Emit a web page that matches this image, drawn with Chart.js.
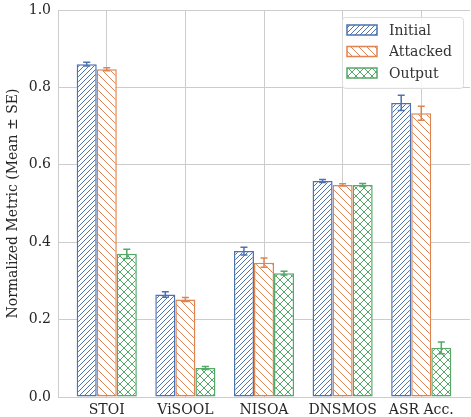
<!DOCTYPE html>
<html>
<head>
<meta charset="utf-8">
<script src="https://cdn.jsdelivr.net/npm/chart.js@4.4.1/dist/chart.umd.min.js"></script>
<style>
  html, body { margin: 0; padding: 0; background: #fff; }
  #wrap { width: 471px; height: 417px; }
</style>
</head>
<body>
<div id="wrap"><canvas id="chart"></canvas></div>
<script>
// data
var metrics = ["STOI", "ViSOOL", "NISOA", "DNSMOS", "ASR Acc."]
var initialMean = [0.860, 0.265, 0.377, 0.558, 0.760]
var initialSE = [0.005, 0.007, 0.010, 0.004, 0.020]
var attackedMean = [0.847, 0.252, 0.347, 0.548, 0.733]
var attackedSE = [0.004, 0.005, 0.012, 0.003, 0.018]
var outputMean = [0.370, 0.075, 0.320, 0.548, 0.127]
var outputSE = [0.012, 0.004, 0.005, 0.004, 0.015]
var yTicks = [0.0, 0.2, 0.4, 0.6, 0.8, 1.0]

var BLUE = "#4c72b0", ORANGE = "#dd8452", GREEN = "#55a868"
var FONT = "'DejaVu Serif', serif"

function hatch(color, kind, s) {
    var c = document.createElement("canvas")
    c.width = s; c.height = s
    var g = c.getContext("2d")
    g.fillStyle = "#fff"
    g.fillRect(0, 0, s, s)
    g.strokeStyle = color
    g.lineWidth = 1
    g.beginPath()
    if (kind == "/" || kind == "x") {
        g.moveTo(-1, s + 1); g.lineTo(s + 1, -1)
        g.moveTo(-1, 1); g.lineTo(1, -1)
        g.moveTo(s - 1, s + 1); g.lineTo(s + 1, s - 1)
    }
    if (kind == "\\" || kind == "x") {
        g.moveTo(-1, -1); g.lineTo(s + 1, s + 1)
        g.moveTo(s - 1, -1); g.lineTo(s + 1, 1)
        g.moveTo(-1, s - 1); g.lineTo(1, s + 1)
    }
    g.stroke()
    return g.createPattern(c, "repeat")
}

function pts(arr) {
    return arr.map(function (v, i) { return { x: i, y: v } })
}

var seList = [initialSE, attackedSE, outputSE]

var errorBars = {
    id: "errorBars",
    afterDatasetsDraw: function (chart) {
        var ctx = chart.ctx
        var ys = chart.scales.y
        chart.data.datasets.forEach(function (ds, di) {
            var meta = chart.getDatasetMeta(di)
            ctx.save()
            ctx.strokeStyle = ds.borderColor
            ctx.lineWidth = 1.5
            meta.data.forEach(function (bar, i) {
                var v = ds.data[i].y, e = seList[di][i]
                var top = ys.getPixelForValue(v + e), bot = ys.getPixelForValue(v - e)
                ctx.beginPath()
                ctx.moveTo(bar.x, top); ctx.lineTo(bar.x, bot)
                ctx.moveTo(bar.x - 3.5, top); ctx.lineTo(bar.x + 3.5, top)
                ctx.moveTo(bar.x - 3.5, bot); ctx.lineTo(bar.x + 3.5, bot)
                ctx.stroke()
            })
            ctx.restore()
        })
    }
}

var insideLegend = {
    id: "insideLegend",
    afterDraw: function (chart) {
        var ctx = chart.ctx
        var area = chart.chartArea
        var w = 121, h = 71
        var x0 = area.right - w - 7, y0 = area.top + 7
        ctx.save()
        ctx.fillStyle = "rgba(255,255,255,0.85)"
        ctx.strokeStyle = "#dddddd"
        ctx.lineWidth = 1
        ctx.beginPath()
        ctx.roundRect(x0 + 0.5, y0 + 0.5, w, h, 3)
        ctx.fill(); ctx.stroke()
        ctx.font = "14px " + FONT
        ctx.textBaseline = "middle"
        chart.data.datasets.forEach(function (ds, i) {
            var cy = y0 + 13 + i * 21.5
            ctx.fillStyle = ds.backgroundColor
            ctx.fillRect(x0 + 5, cy - 5, 30, 10)
            ctx.strokeStyle = ds.borderColor
            ctx.lineWidth = 1.5
            ctx.strokeRect(x0 + 5, cy - 5, 30, 10)
            ctx.fillStyle = "#333333"
            ctx.fillText(ds.label, x0 + 47, cy + 1)
        })
        ctx.restore()
    }
}

var datasets = [
    { label: "Initial", data: pts(initialMean), borderColor: BLUE, backgroundColor: hatch(BLUE, "/", 5) },
    { label: "Attacked", data: pts(attackedMean), borderColor: ORANGE, backgroundColor: hatch(ORANGE, "\\", 8) },
    { label: "Output", data: pts(outputMean), borderColor: GREEN, backgroundColor: hatch(GREEN, "x", 8) }
]
datasets.forEach(function (d) {
    d.borderWidth = 1.5
    d.borderSkipped = false
    d.categoryPercentage = 0.765
    d.barPercentage = 1.0
})

var ctx = document.getElementById("chart").getContext("2d")
new Chart(ctx, {
    type: "bar",
    data: { datasets: datasets },
    options: {
        responsive: true,
        maintainAspectRatio: false,
        animation: false,
        layout: { padding: { top: 10, right: 1, left: 0, bottom: 0 } },
        plugins: { legend: { display: false }, tooltip: { enabled: false } },
        scales: {
            x: {
                type: "linear",
                min: -0.62, max: 4.62,
                offset: false,
                grid: { color: "#cccccc", lineWidth: 1, drawTicks: false, offset: false },
                border: { color: "#cccccc" },
                afterFit: function (s) { s.height = 20; s.paddingRight = 0 },
                afterBuildTicks: function (s) {
                    s.ticks = metrics.map(function (m, i) { return { value: i } })
                },
                ticks: {
                    padding: 5,
                    color: "#262626",
                    font: { family: FONT, size: 14 },
                    maxRotation: 0,
                    autoSkip: false,
                    callback: function (v) { return metrics[v] }
                }
            },
            y: {
                min: 0, max: 1,
                grid: { color: "#cccccc", lineWidth: 1, drawTicks: false },
                border: { color: "#cccccc" },
                afterFit: function (s) { s.width = 58; s.paddingTop = 0; s.paddingBottom = 0 },
                afterBuildTicks: function (s) {
                    s.ticks = yTicks.map(function (t) { return { value: t } })
                },
                ticks: {
                    padding: 7,
                    color: "#262626",
                    font: { family: FONT, size: 14 },
                    callback: function (v) { return v.toFixed(1) }
                },
                title: {
                    display: true,
                    text: "Normalized Metric (Mean ± SE)",
                    color: "#262626",
                    font: { family: FONT, size: 14 },
                    padding: { top: 5, bottom: 0 }
                }
            }
        }
    },
    plugins: [errorBars, insideLegend]
})
</script>
</body>
</html>
